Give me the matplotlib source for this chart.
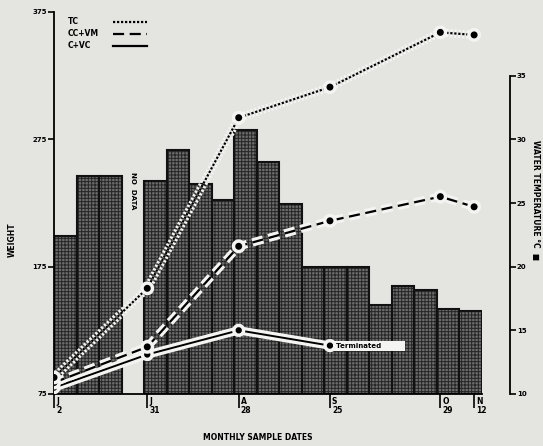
import matplotlib
matplotlib.use('Agg')
import matplotlib.pyplot as plt
import matplotlib.patheffects as pe
import matplotlib.transforms as mtransforms
from matplotlib.lines import Line2D

# Weekly mean water temperature (deg C), None = no data that week
temp_weeks = [22.4, 27.1, 27.1, None, 26.7, 29.2, 26.5, 25.2, 30.7, 28.2, 24.9,
              20.0, 20.0, 20.0, 17.0, 18.5, 18.2, 16.7, 16.5]

# Monthly sample dates (position in weeks from the first sample)
date_labels = ['J\n2', 'J\n31', 'A\n28', 'S\n25', 'O\n29', 'N\n12']
date_pos = [0, 4.14, 8.2, 12.25, 17.15, 18.65]

# Mean weight per treatment
tc = [88, 158, 292, 316, 359, 357]
cc_vm = [84, 112, 191, 211, 230, 222]
c_vc = [80, 106, 125, 113]

bg = '#e4e4e1'
halo_col = '#f4f4f2'
plt.rcParams['font.family'] = 'DejaVu Sans'
plt.rcParams['font.weight'] = 'bold'
plt.rcParams['hatch.linewidth'] = 0.7

fig = plt.figure(figsize=(5.43, 4.46), dpi=100, facecolor=bg)
ax = fig.add_axes([54 / 543, 1 - 394 / 446, 428 / 543, 382 / 446])
ax2 = ax.twinx()
ax.set_zorder(ax2.get_zorder() + 1)
ax.patch.set_visible(False)
ax2.patch.set_visible(False)

# Water temperature bars
x_bar = [i + 0.5 for i, t in enumerate(temp_weeks) if t is not None]
h_bar = [t - 10 for t in temp_weeks if t is not None]
ax2.bar(x_bar, h_bar, bottom=10, width=1.0, color='#6c6c6c', edgecolor='#262626',
        hatch='+++++', linewidth=0, zorder=1)
ax2.bar(x_bar, h_bar, bottom=10, width=1.0, fill=False, edgecolor='#111111',
        linewidth=1.5, zorder=2)

ax2.set_ylim(10, 40)
for s in ['top', 'left', 'bottom']:
    ax2.spines[s].set_visible(False)
ax2.spines['right'].set_position(('outward', 20))
ax2.spines['right'].set_bounds(10, 35)
ax2.spines['right'].set_linewidth(1.3)
ax2.set_yticks([10, 15, 20, 25, 30, 35])
ax2.tick_params(axis='y', direction='out', length=4, width=1.2, pad=1, labelsize=5)

# Weight lines with white halo
halo = [pe.Stroke(linewidth=6, foreground=halo_col), pe.Normal()]
ax.plot(date_pos, tc, color='black', linestyle=(0, (1, 0.8)), linewidth=1.6,
        marker='o', markersize=4, path_effects=halo, zorder=5)
ax.plot(date_pos, cc_vm, color='black', linestyle=(0, (5, 2.5)), linewidth=1.6,
        marker='o', markersize=4, path_effects=halo, zorder=4)
ax.plot(date_pos[:len(c_vc)], c_vc, color='black', linestyle='-', linewidth=1.4,
        marker='o', markersize=3.5, path_effects=halo, zorder=3)
ax.text(date_pos[len(c_vc) - 1] + 0.25, c_vc[-1], 'Terminated         ', fontsize=5,
        ha='left', va='center', zorder=6,
        bbox=dict(facecolor=halo_col, edgecolor='none', pad=1.5))

ax.text(3.5, 249, 'NO  DATA', rotation=-90, fontsize=5, ha='center', va='top', zorder=6)

ax.set_xlim(0, 19)
ax.set_ylim(75, 375)
ax.spines['top'].set_visible(False)
ax.spines['right'].set_visible(False)
ax.spines['left'].set_linewidth(1.3)
ax.spines['bottom'].set_linewidth(1.3)
ax.set_yticks([75, 175, 275, 375])
ax.tick_params(axis='y', direction='out', length=4, width=1.2, pad=1, labelsize=5)
ax.set_xticks(date_pos)
ax.set_xticklabels(date_labels, fontsize=5.5, ha='left', linespacing=1.1)
ax.tick_params(axis='x', direction='out', length=10, width=1.2, pad=-8)
offset = mtransforms.ScaledTranslation(2 / 100, 0, fig.dpi_scale_trans)
for lab in ax.get_xticklabels():
    lab.set_transform(lab.get_transform() + offset)

# Legend: labels left aligned, line samples in a second column to the right
handles = [Line2D([], [], color='black', linestyle=(0, (1, 0.8)), linewidth=1.6),
           Line2D([], [], color='black', linestyle=(0, (5, 2.5)), linewidth=1.6),
           Line2D([], [], color='black', linestyle='-', linewidth=1.6)]
leg_kw = dict(loc='upper left', frameon=False, fontsize=5.5, labelspacing=0.4,
              borderaxespad=0.3)
leg1 = ax.legend(handles, ['TC', 'CC+VM', 'C+VC'], bbox_to_anchor=(0.02, 1.0),
                 handlelength=0, handletextpad=0, **leg_kw)
for h in leg1.get_lines():
    h.set_visible(False)
ax.add_artist(leg1)
ax.legend(handles, [' ', ' ', ' '], bbox_to_anchor=(0.125, 1.0),
          handlelength=4.5, handletextpad=0, **leg_kw)

fig.text(12 / 543, 1 - 240 / 446, 'WEIGHT', rotation=90, fontsize=5.5, ha='center', va='center')
fig.text(258 / 543, 1 - 437 / 446, 'MONTHLY SAMPLE DATES', fontsize=5.5, ha='center', va='center')
fig.text(536 / 543, 1 - 200 / 446, 'WATER TEMPERATURE \u00b0C  \u25a0', rotation=-90,
         fontsize=5.5, ha='center', va='center')

fig.savefig('out.png', dpi=100, facecolor=bg)
